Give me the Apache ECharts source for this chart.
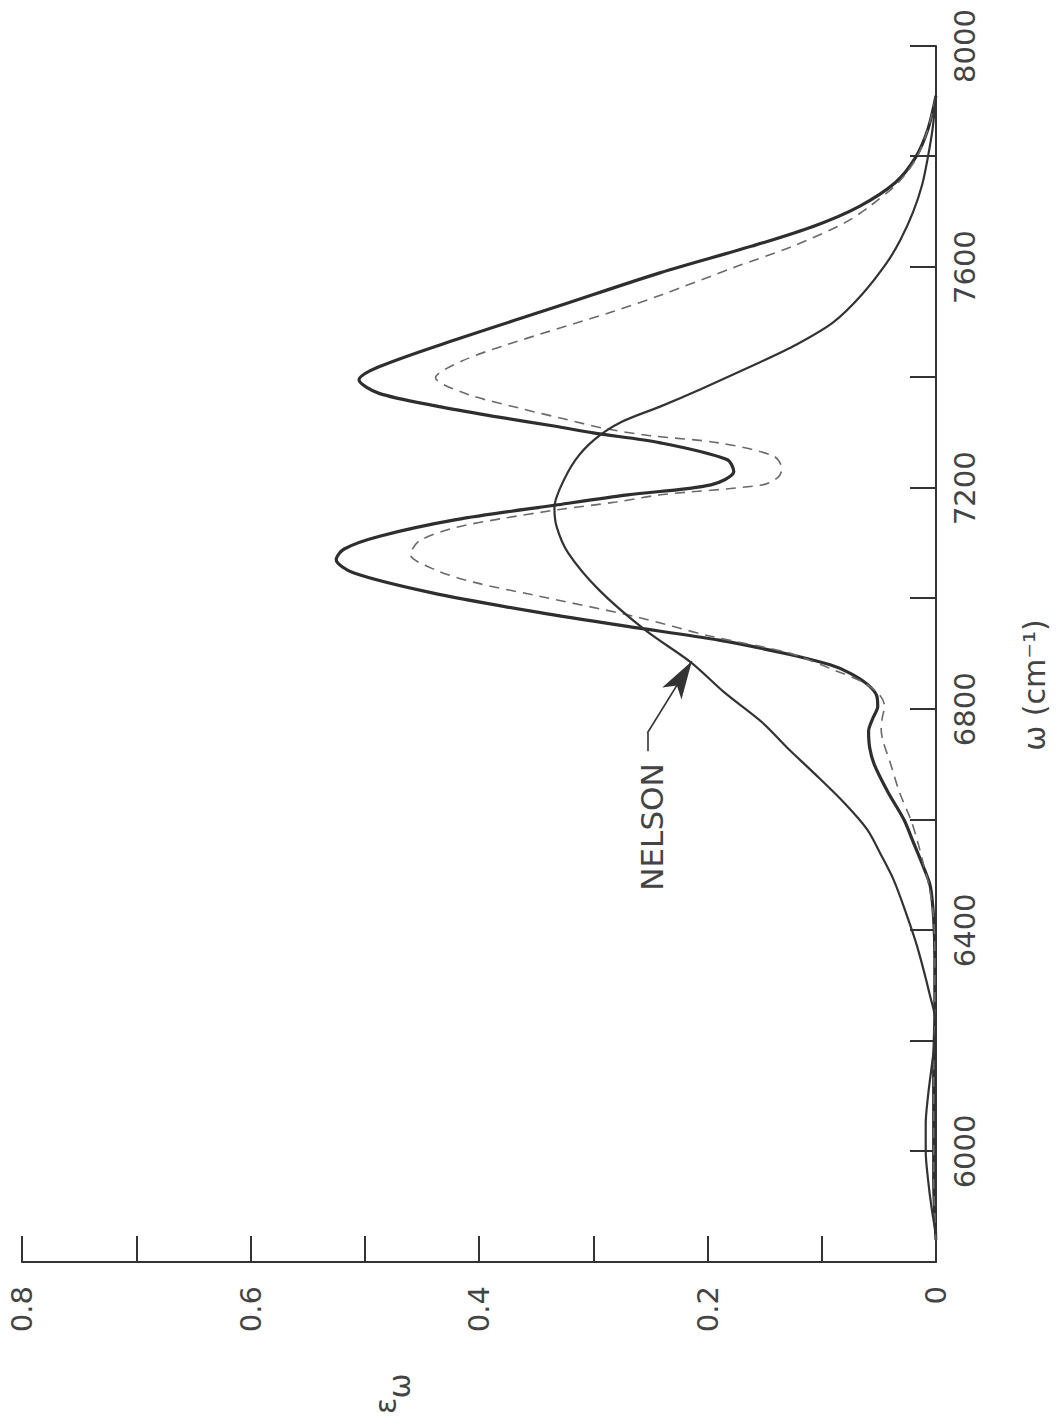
<!DOCTYPE html>
<html>
<head>
<meta charset="utf-8">
<script src="https://cdn.jsdelivr.net/npm/echarts@6/dist/echarts.min.js"></script>
<style>
    html, body { margin: 0; padding: 0; background: #fff; overflow: hidden; width: 1056px; height: 1423px; }
    /* the figure is printed sideways, so the chart is drawn normally and turned a quarter left */
    #chart { position: absolute; left: 0; top: 1423px; width: 1423px; height: 1056px; transform-origin: 0 0; transform: rotate(-90deg); }
</style>
</head>
<body>
<div id="chart"></div>
<script>
// thick solid curve (two peaks)
const solidOmega = [5840, 5950, 6050, 6150, 6250, 6350, 6420, 6480, 6520, 6560, 6600, 6650, 6700, 6730, 6760, 6785, 6805, 6825, 6845, 6865, 6880, 6900, 6925, 6950, 6977, 7011, 7047, 7071, 7090, 7113, 7143, 7170, 7188, 7206, 7230, 7252, 7282, 7300, 7312, 7330, 7348, 7372, 7396, 7420, 7469, 7529, 7590, 7638, 7674, 7710, 7753, 7798, 7850, 7910];
const solidEps = [0, 0.002, 0.002, 0.002, 0.001, 0.001, 0.002, 0.005, 0.012, 0.02, 0.028, 0.042, 0.054, 0.058, 0.059, 0.055, 0.051, 0.052, 0.06, 0.075, 0.092, 0.13, 0.19, 0.27, 0.353, 0.442, 0.51, 0.525, 0.518, 0.487, 0.42, 0.331, 0.27, 0.197, 0.177, 0.183, 0.241, 0.3, 0.333, 0.387, 0.436, 0.488, 0.505, 0.487, 0.42, 0.331, 0.241, 0.161, 0.107, 0.067, 0.0355, 0.018, 0.007, 0];

// dashed curve
const dashOmega = [5840, 5950, 6050, 6150, 6250, 6350, 6420, 6480, 6520, 6560, 6600, 6650, 6703, 6740, 6763, 6785, 6805, 6825, 6848, 6870, 6902, 6932, 6968, 7007, 7030, 7052, 7080, 7105, 7129, 7145, 7161, 7175, 7188, 7206, 7220, 7235, 7258, 7282, 7295, 7308, 7325, 7345, 7370, 7400, 7430, 7460, 7520, 7550, 7600, 7638, 7680, 7710, 7753, 7798, 7850, 7910];
const dashEps = [0, 0.002, 0.002, 0.002, 0.001, 0.001, 0.002, 0.006, 0.011, 0.016, 0.022, 0.032, 0.04, 0.046, 0.048, 0.047, 0.045, 0.049, 0.063, 0.088, 0.129, 0.197, 0.264, 0.353, 0.405, 0.438, 0.46, 0.452, 0.42, 0.38, 0.331, 0.28, 0.241, 0.152, 0.138, 0.135, 0.142, 0.19, 0.25, 0.29, 0.325, 0.365, 0.41, 0.438, 0.415, 0.375, 0.282, 0.24, 0.176, 0.125, 0.08, 0.058, 0.033, 0.017, 0.007, 0];

// NELSON curve
const nelsonOmega = [5850, 5900, 5950, 6000, 6050, 6100, 6150, 6200, 6230, 6280, 6371, 6430, 6491, 6540, 6582, 6630, 6685, 6730, 6776, 6830, 6884, 6944, 7016, 7083, 7130, 7165, 7200, 7250, 7288, 7320, 7348, 7380, 7427, 7460, 7500, 7550, 7608, 7650, 7700, 7750, 7800, 7850, 7910];
const nelsonEps = [0, 0.004, 0.007, 0.009, 0.009, 0.007, 0.004, 0.001, 0, 0.005, 0.0165, 0.026, 0.037, 0.049, 0.06, 0.08, 0.107, 0.13, 0.152, 0.185, 0.214, 0.255, 0.295, 0.322, 0.332, 0.334, 0.329, 0.316, 0.299, 0.275, 0.241, 0.205, 0.155, 0.122, 0.09, 0.065, 0.043, 0.031, 0.02, 0.012, 0.007, 0.003, 0];

// leader line for the NELSON label: tail, bend, arrow tip
const leaderOmega = [6724, 6757, 6887];
const leaderEps = [0.2526, 0.2526, 0.2137];

const omegaLabels = [6000, 6400, 6800, 7200, 7600, 8000];
const epsLabels = ['0', '0.2', '0.4', '0.6', '0.8'];

const ink = '#333';
const font = 'DejaVu Sans';

function zip(xs, ys) {
    return xs.map((x, i) => [x, ys[i]]);
}

const chart = echarts.init(document.getElementById('chart'), null, { renderer: 'svg' });

const option = {
    animation: false,
    backgroundColor: '#fff',
    grid: { left: 161, right: 46, top: 22, bottom: 120, containLabel: false },
    xAxis: {
        type: 'value',
        min: 5800,
        max: 8000,
        interval: 200,
        axisLine: { show: true, onZero: false, lineStyle: { color: ink, width: 2 } },
        axisTick: { show: true, inside: true, length: 26, lineStyle: { color: ink, width: 2 } },
        axisLabel: {
            margin: 14,
            fontFamily: font,
            fontSize: 29,
            color: '#444',
            formatter: v => omegaLabels.includes(v) ? String(v) : ''
        },
        splitLine: { show: false }
    },
    yAxis: {
        type: 'value',
        min: 0,
        max: 0.8,
        interval: 0.1,
        axisLine: { show: true, onZero: false, lineStyle: { color: ink, width: 2 } },
        axisTick: { show: true, inside: true, length: 26, lineStyle: { color: ink, width: 2 } },
        axisLabel: {
            margin: 24,
            fontFamily: font,
            fontSize: 29,
            color: '#444',
            formatter: v => {
                const t = v === 0 ? '0' : v.toFixed(1);
                return epsLabels.includes(t) ? t : '';
            }
        },
        splitLine: { show: false }
    },
    graphic: [
        {
            type: 'text', x: 738, y: 1034,
            style: { text: 'ω (cm⁻¹)', font: '30px "DejaVu Sans"', fill: '#444', align: 'center', verticalAlign: 'middle' }
        },
        {
            type: 'text', x: 17, y: 385,
            style: { text: 'ε', font: '30px "DejaVu Sans"', fill: '#444', align: 'center', verticalAlign: 'middle' }
        },
        {
            type: 'text', x: 37, y: 399,
            style: { text: 'ω', font: '30px "DejaVu Sans"', fill: '#444', align: 'center', verticalAlign: 'middle' }
        },
        {
            type: 'text', x: 596, y: 652,
            style: { text: 'NELSON', font: '31px "DejaVu Sans"', fill: '#444', align: 'center', verticalAlign: 'middle' }
        }
    ],
    series: [
        {
            name: 'solid',
            type: 'line',
            data: zip(solidOmega, solidEps),
            showSymbol: false,
            smooth: 0.3,
            lineStyle: { color: '#2e2e2e', width: 3.2 }
        },
        {
            name: 'dashed',
            type: 'line',
            data: zip(dashOmega, dashEps),
            showSymbol: false,
            smooth: 0.3,
            lineStyle: { color: '#6a6a6a', width: 1.6, type: [10, 7] }
        },
        {
            name: 'NELSON',
            type: 'line',
            data: zip(nelsonOmega, nelsonEps),
            showSymbol: false,
            smooth: 0.3,
            lineStyle: { color: '#333', width: 2.2 },
            markLine: {
                silent: true,
                symbol: ['none', 'none'],
                symbolSize: [17, 38],
                label: { show: false },
                lineStyle: { color: '#333', width: 1.6, type: 'solid' },
                data: [
                    [{ coord: [leaderOmega[0], leaderEps[0]] }, { coord: [leaderOmega[1], leaderEps[1]] }],
                    [{ coord: [leaderOmega[1], leaderEps[1]] }, { coord: [leaderOmega[2], leaderEps[2]], symbol: 'arrow' }]
                ]
            }
        }
    ]
};

chart.setOption(option);
</script>
</body>
</html>
